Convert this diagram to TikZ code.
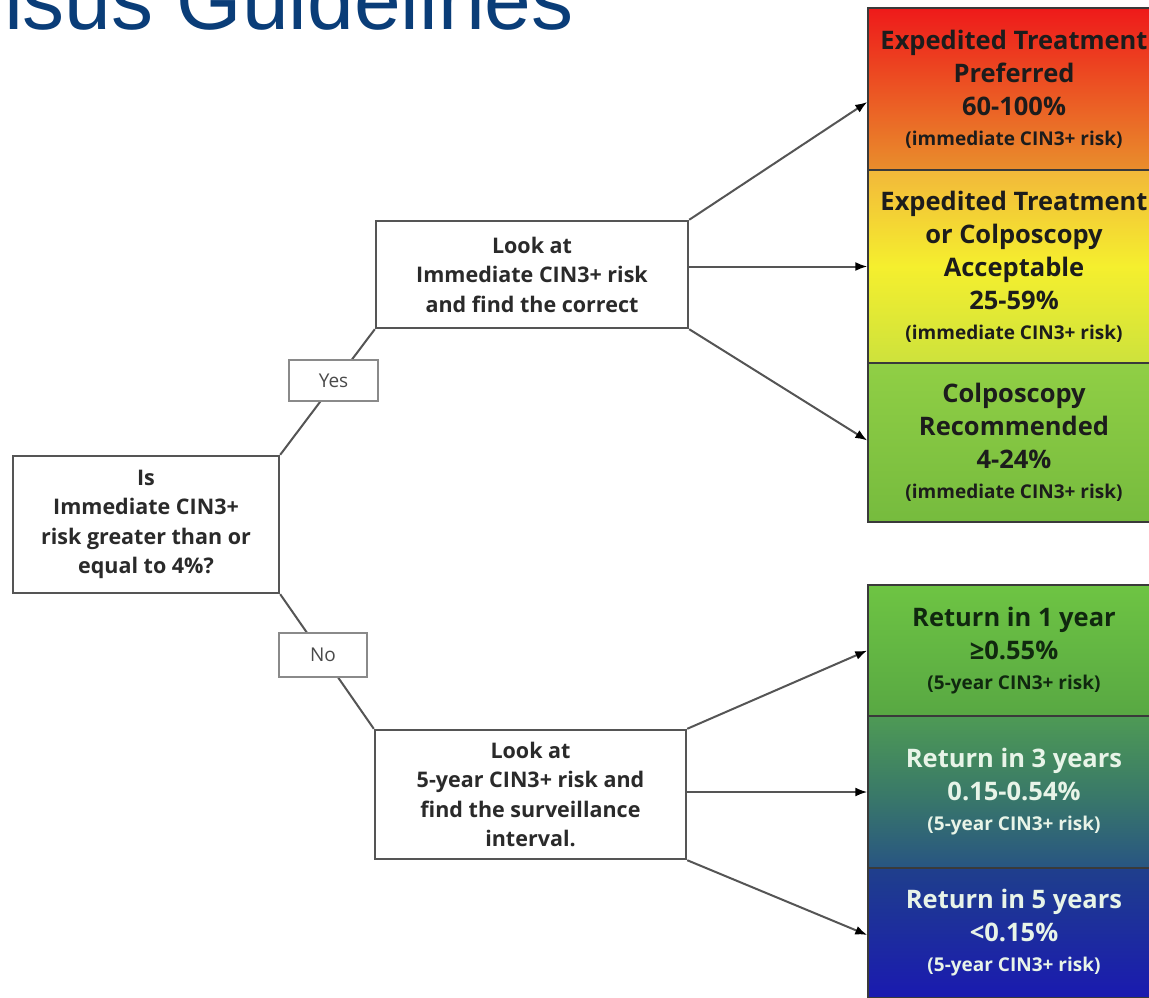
\documentclass[tikz,border=0pt]{standalone}
\usepackage{fontspec}
\setmainfont{Open Sans}
\newfontfamily\titlefont{Liberation Sans}
\usetikzlibrary{arrows.meta}
\definecolor{titleblue}{HTML}{0A3D78}
\definecolor{boxgray}{HTML}{555555}
\definecolor{lblgray}{HTML}{8A8A8A}
\definecolor{txtgray}{HTML}{2A2A2A}
\definecolor{darktxt}{HTML}{1C1C1C}
\definecolor{greentxt}{HTML}{10280F}
\definecolor{lighttxt}{HTML}{E8F4E8}
\definecolor{colborder}{HTML}{3A3A3A}
\definecolor{cRedT}{HTML}{EE1A1A}
\definecolor{cRedB}{HTML}{E98E2C}
\definecolor{cYelT}{HTML}{F2B83A}
\definecolor{cYelM}{HTML}{F5EF2E}
\definecolor{cYelB}{HTML}{CDE23C}
\definecolor{cGrnT}{HTML}{90CF45}
\definecolor{cGrnB}{HTML}{76BB3E}
\definecolor{cG2T}{HTML}{6EC443}
\definecolor{cG2B}{HTML}{58A843}
\definecolor{cTlT}{HTML}{4E9A55}
\definecolor{cTlM}{HTML}{3A7A68}
\definecolor{cTlB}{HTML}{285582}
\definecolor{cBlT}{HTML}{1F3F8C}
\definecolor{cBlB}{HTML}{1A1AB0}
\tikzset{
  lbox/.style={draw=boxgray, line width=2.4pt, fill=white, inner sep=0pt, align=center,
    text=txtgray, font=\bfseries\fontsize{21.5}{29.5}\selectfont},
  lbl/.style={draw=lblgray, line width=1.5pt, fill=white, inner sep=0pt,
    text=txtgray!85, font=\fontsize{19}{22}\selectfont},
  conn/.style={draw=boxgray, line width=2pt},
  arr/.style={draw=boxgray, line width=2pt, -{Latex[length=12pt,width=9pt,color=black]}},
  rbox/.style={draw=colborder, line width=1.4pt, inner sep=0pt, align=center,
    minimum width=292pt, font=\bfseries\fontsize{25.5}{33}\selectfont},
}
\newcommand{\smalltxt}[1]{{\fontsize{19}{24}\selectfont #1}}
\begin{document}
\begin{tikzpicture}[x=1pt,y=-1pt]
\clip (0,0) rectangle (1149,998);
\fill[white] (0,0) rectangle (1149,998);

% title
\node[anchor=base east, inner sep=0pt, text=titleblue,
  font=\titlefont\fontsize{84}{84}\selectfont] (title) at (574,30) {nsus Guidelines};

% right column
\node[rbox, minimum height=162pt, top color=cRedT, bottom color=cRedB, text=darktxt]
  (r1) at (1014,89) {Expedited Treatment\\Preferred\\60-100\%\\[-3pt]\smalltxt{(immediate CIN3+ risk)}};
\node[rbox, minimum height=193pt, top color=cYelT, bottom color=cYelB, middle color=cYelM, text=darktxt]
  (r2) at (1014,266.5) {Expedited Treatment\\or Colposcopy\\Acceptable\\25-59\%\\[-3pt]\smalltxt{(immediate CIN3+ risk)}};
\node[rbox, minimum height=159pt, top color=cGrnT, bottom color=cGrnB, text=darktxt]
  (r3) at (1014,442.5) {Colposcopy\\Recommended\\4-24\%\\[-3pt]\smalltxt{(immediate CIN3+ risk)}};
\node[rbox, minimum height=131pt, top color=cG2T, bottom color=cG2B, text=greentxt]
  (r4) at (1014,650.5) {Return in 1 year\\≥0.55\%\\[-3pt]\smalltxt{(5-year CIN3+ risk)}};
\node[rbox, minimum height=152pt, top color=cTlT, bottom color=cTlB, middle color=cTlM, text=lighttxt]
  (r5) at (1014,792) {Return in 3 years\\0.15-0.54\%\\[-3pt]\smalltxt{(5-year CIN3+ risk)}};
\node[rbox, minimum height=130pt, top color=cBlT, bottom color=cBlB, text=lighttxt]
  (r6) at (1014,933) {Return in 5 years\\<0.15\%\\[-3pt]\smalltxt{(5-year CIN3+ risk)}};

% left boxes
\node[lbox, minimum width=266pt, minimum height=137pt] (q) at (146,524.5)
  {Is\\Immediate CIN3+\\risk greater than or\\equal to 4\%?};
\node[lbox, minimum width=312pt, minimum height=107pt] (up) at (532,274.5)
  {Look at\\Immediate CIN3+ risk\\and find the correct};
\node[lbox, minimum width=311pt, minimum height=129pt] (lo) at (530.5,794.5)
  {Look at\\5-year CIN3+ risk and\\find the surveillance\\interval.};

% connectors
\draw[conn] (q.north east) -- (up.south west);
\draw[conn] (q.south east) -- (lo.north west);
\node[lbl, minimum width=89pt, minimum height=41pt] (yes) at (333.5,380.5) {Yes};
\node[lbl, minimum width=88pt, minimum height=44pt] (no) at (323,655) {No};

\draw[arr] (up.north east) -- ([yshift=-13pt]r1.west);
\draw[arr] (up.east |- r2.west) -- (r2.west);
\draw[arr] (up.south east) -- ([yshift=2pt]r3.west);
\draw[arr] (lo.north east) -- (r4.west);
\draw[arr] (lo.east |- r5.west) -- (r5.west);
\draw[arr] (lo.south east) -- ([yshift=-2pt]r6.west);
\end{tikzpicture}
\end{document}
